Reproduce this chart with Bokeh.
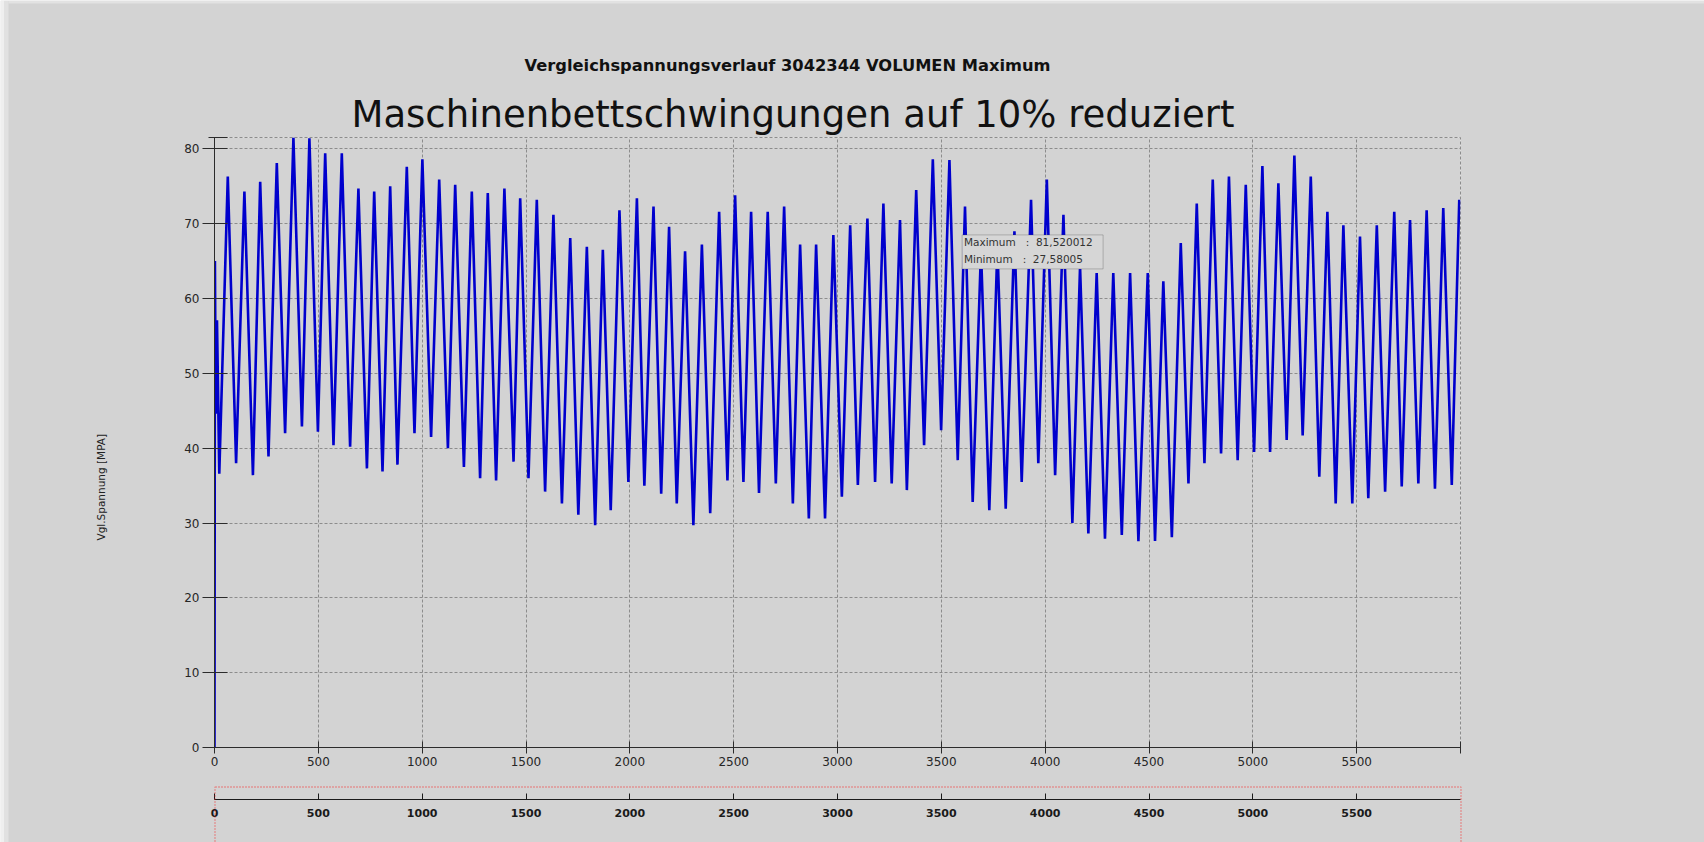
import numpy as np
from bokeh.plotting import figure
from bokeh.layouts import column
from bokeh.models import (LinearAxis, FixedTicker, Range1d, Label, BoxAnnotation,
                          ColumnDataSource, Grid, Title)
from bokeh.embed import file_html
from bokeh.resources import INLINE

# --- data: sample index and equivalent stress [MPa] -------------------------
# run-in at the start of the record
start_t = [0, 2, 6]
start_v = [0.0, 65.0, 44.6]

# local maxima of each load cycle
peak_t = [12, 64, 144, 220, 300, 380, 457, 533, 613, 693, 769, 846, 926, 1001, 1082, 1159, 1239, 1316, 1396, 1472,
          1552, 1632, 1713, 1793, 1870, 1950, 2034, 2114, 2189, 2266, 2347, 2430, 2507, 2584, 2664, 2743, 2820, 2897, 2980,
          3061, 3144, 3221, 3301, 3379, 3459, 3539, 3614, 3691, 3770, 3852, 3932, 4008, 4088, 4168, 4248, 4328, 4409, 4494,
          4569, 4653, 4730, 4807, 4885, 4966, 5046, 5123, 5200, 5279, 5359, 5436, 5516, 5597, 5681, 5757, 5837, 5917, 5994]
peak_v = [57.1, 76.3, 74.3, 75.6, 78.1, 81.520012, 81.4, 79.4, 79.4, 74.7, 74.3, 75.0, 77.6, 78.6, 75.9, 75.2, 74.3, 74.1, 74.7, 73.4,
          73.2, 71.2, 68.1, 66.9, 66.5, 71.8, 73.4, 72.3, 69.6, 66.3, 67.2, 71.6, 73.8, 71.6, 71.6, 72.3, 67.2, 67.2, 68.5,
          69.8, 70.7, 72.7, 70.5, 74.5, 78.6, 78.5, 72.3, 66.5, 67.0, 69.0, 73.2, 75.9, 71.2, 64.3, 63.4, 63.4, 63.4, 63.4,
          62.3, 67.4, 72.7, 75.9, 76.3, 75.2, 77.7, 75.4, 79.1, 76.3, 71.6, 69.8, 68.3, 69.8, 71.6, 70.5, 71.8, 72.1, 73.2]

# local minima of each load cycle
trough_t = [23, 104, 185, 260, 340, 421, 498, 573, 653, 734, 809, 881, 963, 1043, 1124, 1201, 1279, 1356, 1440,
            1512, 1592, 1673, 1752, 1833, 1908, 1993, 2070, 2151, 2226, 2306, 2387, 2470, 2547, 2622, 2703, 2785, 2862, 2940,
            3021, 3098, 3181, 3261, 3334, 3417, 3499, 3579, 3651, 3731, 3810, 3887, 3967, 4048, 4131, 4208, 4288, 4369, 4449,
            4529, 4610, 4690, 4767, 4847, 4927, 5006, 5083, 5163, 5240, 5320, 5399, 5479, 5556, 5637, 5717, 5797, 5877, 5958]
trough_v = [36.6, 38.0, 36.4, 38.9, 42.0, 42.9, 42.2, 40.4, 40.2, 37.3, 36.9, 37.8, 42.0, 41.5, 40.0, 37.5, 36.0, 35.7, 38.2,
            36.0, 34.2, 32.6, 31.1, 29.7, 31.7, 35.5, 35.0, 33.9, 32.6, 29.7, 31.3, 35.7, 35.5, 34.0, 35.3, 32.6, 30.6, 30.6,
            33.5, 35.1, 35.5, 35.3, 34.4, 40.4, 42.4, 38.4, 32.8, 31.7, 31.9, 35.5, 38.0, 36.4, 30.0, 28.6, 27.9, 28.4, 27.58005,
            27.6, 28.1, 35.3, 38.0, 39.3, 38.4, 39.5, 39.5, 41.1, 41.7, 36.2, 32.6, 32.6, 33.3, 34.2, 34.9, 35.3, 34.6, 35.1]

x_ticks = [0, 500, 1000, 1500, 2000, 2500, 3000, 3500, 4000, 4500, 5000, 5500]
y_ticks = [0, 10, 20, 30, 40, 50, 60, 70, 80]
x_end = 6000

title_main = "Vergleichspannungsverlauf 3042344 VOLUMEN Maximum"
title_sub = "Maschinenbettschwingungen auf 10% reduziert"
y_label = "Vgl.Spannung [MPA]"
max_text = "81,520012"
min_text = "27,58005"

# --- assemble the polyline: run-in, then peak/trough alternating -------------
t = list(start_t)
v = list(start_v)
for i in range(len(trough_t)):
    t += [peak_t[i], trough_t[i]]
    v += [peak_v[i], trough_v[i]]
t.append(peak_t[-1])
v.append(peak_v[-1])
src = ColumnDataSource(data=dict(t=t, v=v))

BG = "#d3d3d3"
GRID = "#8c8c8c"
AXIS = "#2b2b2b"
FONT = "DejaVu Sans"
NBSP = "\u00a0"

y_max = max(v)

p = figure(width=1704, height=842, x_range=Range1d(0, x_end), y_range=Range1d(0, y_max),
           x_axis_type=None, y_axis_type=None, title=None,
           output_backend="svg", toolbar_location=None,
           min_border_left=214, min_border_right=244, min_border_top=137, min_border_bottom=95,
           background_fill_color=BG, border_fill_color=BG,
           outline_line_color=GRID, outline_line_dash="3 2", outline_line_width=1)

# grids
p.add_layout(Grid(dimension=0, ticker=FixedTicker(ticks=x_ticks), grid_line_color=GRID,
                  grid_line_dash="3 2", grid_line_width=1))
p.add_layout(Grid(dimension=1, ticker=FixedTicker(ticks=y_ticks), grid_line_color=GRID,
                  grid_line_dash="3 2", grid_line_width=1))

# y axis (ticks crossing the axis line, cap at the top end)
yaxis = LinearAxis(ticker=FixedTicker(ticks=y_ticks, minor_ticks=[y_max - 0.01]),
                   major_tick_in=13, major_tick_out=12, minor_tick_in=13, minor_tick_out=6,
                   axis_line_color=AXIS, major_tick_line_color=AXIS, minor_tick_line_color=AXIS,
                   major_label_text_font=FONT, major_label_text_font_size="12px",
                   major_label_text_color="#262626", major_label_standoff=3)
p.add_layout(yaxis, "left")

# main x axis
xaxis = LinearAxis(ticker=FixedTicker(ticks=x_ticks, minor_ticks=[x_end - 0.5]),
                   major_tick_in=6, major_tick_out=6, minor_tick_in=6, minor_tick_out=6,
                   axis_line_color=AXIS, major_tick_line_color=AXIS, minor_tick_line_color=AXIS,
                   major_label_text_font=FONT, major_label_text_font_size="12px",
                   major_label_text_color="#262626", major_label_standoff=3,
                   axis_label=NBSP, axis_label_standoff=14, axis_label_text_font_size="12px")
p.add_layout(xaxis, "below")

# overview axis underneath
xaxis2 = LinearAxis(ticker=FixedTicker(ticks=x_ticks),
                    major_tick_in=6, major_tick_out=0, minor_tick_in=0, minor_tick_out=0,
                    axis_line_color="#1a1a1a", major_tick_line_color="#1a1a1a",
                    major_label_text_font=FONT, major_label_text_font_size="11px",
                    major_label_text_font_style="bold",
                    major_label_text_color="#1a1a1a", major_label_standoff=9)
p.add_layout(xaxis2, "below")

# titles (nearest to the frame first) and the y caption
p.add_layout(Title(text=title_sub, align="left", offset=137, standoff=4,
                   text_font=FONT, text_font_size="37px", text_font_style="normal",
                   text_color="#111111"), "above")
p.add_layout(Title(text=title_main, align="left", offset=310, standoff=27,
                   text_font=FONT, text_font_size="16.3px", text_font_style="bold",
                   text_color="#111111"), "above")
p.add_layout(Title(text=y_label, align="left", offset=207, standoff=150,
                   text_font=FONT, text_font_size="10.5px", text_font_style="normal",
                   text_color="#222222"), "left")

# stress signal
p.line(x="t", y="v", source=src, line_color="#0000cd", line_width=2.6)

# min / max info box
p.add_layout(BoxAnnotation(left=3600, right=4279, top=68.5, bottom=63.96,
                           fill_color="#d6d6d6", fill_alpha=1.0,
                           line_color="#4a4a4a", line_width=1))
p.add_layout(Label(x=3609, y=67.6, text="Maximum" + NBSP * 3 + ":" + NBSP * 2 + max_text,
                   text_font=FONT, text_font_size="10.5px", text_color="#333333",
                   text_baseline="middle"))
p.add_layout(Label(x=3609, y=65.25, text="Minimum" + NBSP * 3 + ":" + NBSP * 2 + min_text,
                   text_font=FONT, text_font_size="10.5px", text_color="#333333",
                   text_baseline="middle"))

# transparent overlay in page pixels: overview frame and page edge shading
ov = figure(width=1704, height=842, x_range=Range1d(0, 1704), y_range=Range1d(842, 0),
            x_axis_type=None, y_axis_type=None, title=None,
            output_backend="svg", toolbar_location=None, min_border=0,
            background_fill_alpha=0, border_fill_alpha=0, outline_line_alpha=0,
            margin=(-842, 0, 0, 0))
ov.frame_align = False
ov.add_layout(BoxAnnotation(left=214.5, right=1460.5, top=786.5, bottom=900,
                            fill_alpha=0, line_color="#ff0000", line_dash="2 1", line_width=1.4))
ov.add_layout(BoxAnnotation(left=0, right=4, top=0, bottom=842,
                            fill_color="#efefef", fill_alpha=1.0, line_alpha=0))
ov.add_layout(BoxAnnotation(left=4, right=8, top=0, bottom=842,
                            fill_color="#e1e1e1", fill_alpha=1.0, line_alpha=0))
ov.add_layout(BoxAnnotation(left=8, right=1704, top=0, bottom=3,
                            fill_color="#e2e2e2", fill_alpha=1.0, line_alpha=0))

open("out.html", "w").write(file_html(column(p, ov), INLINE))
